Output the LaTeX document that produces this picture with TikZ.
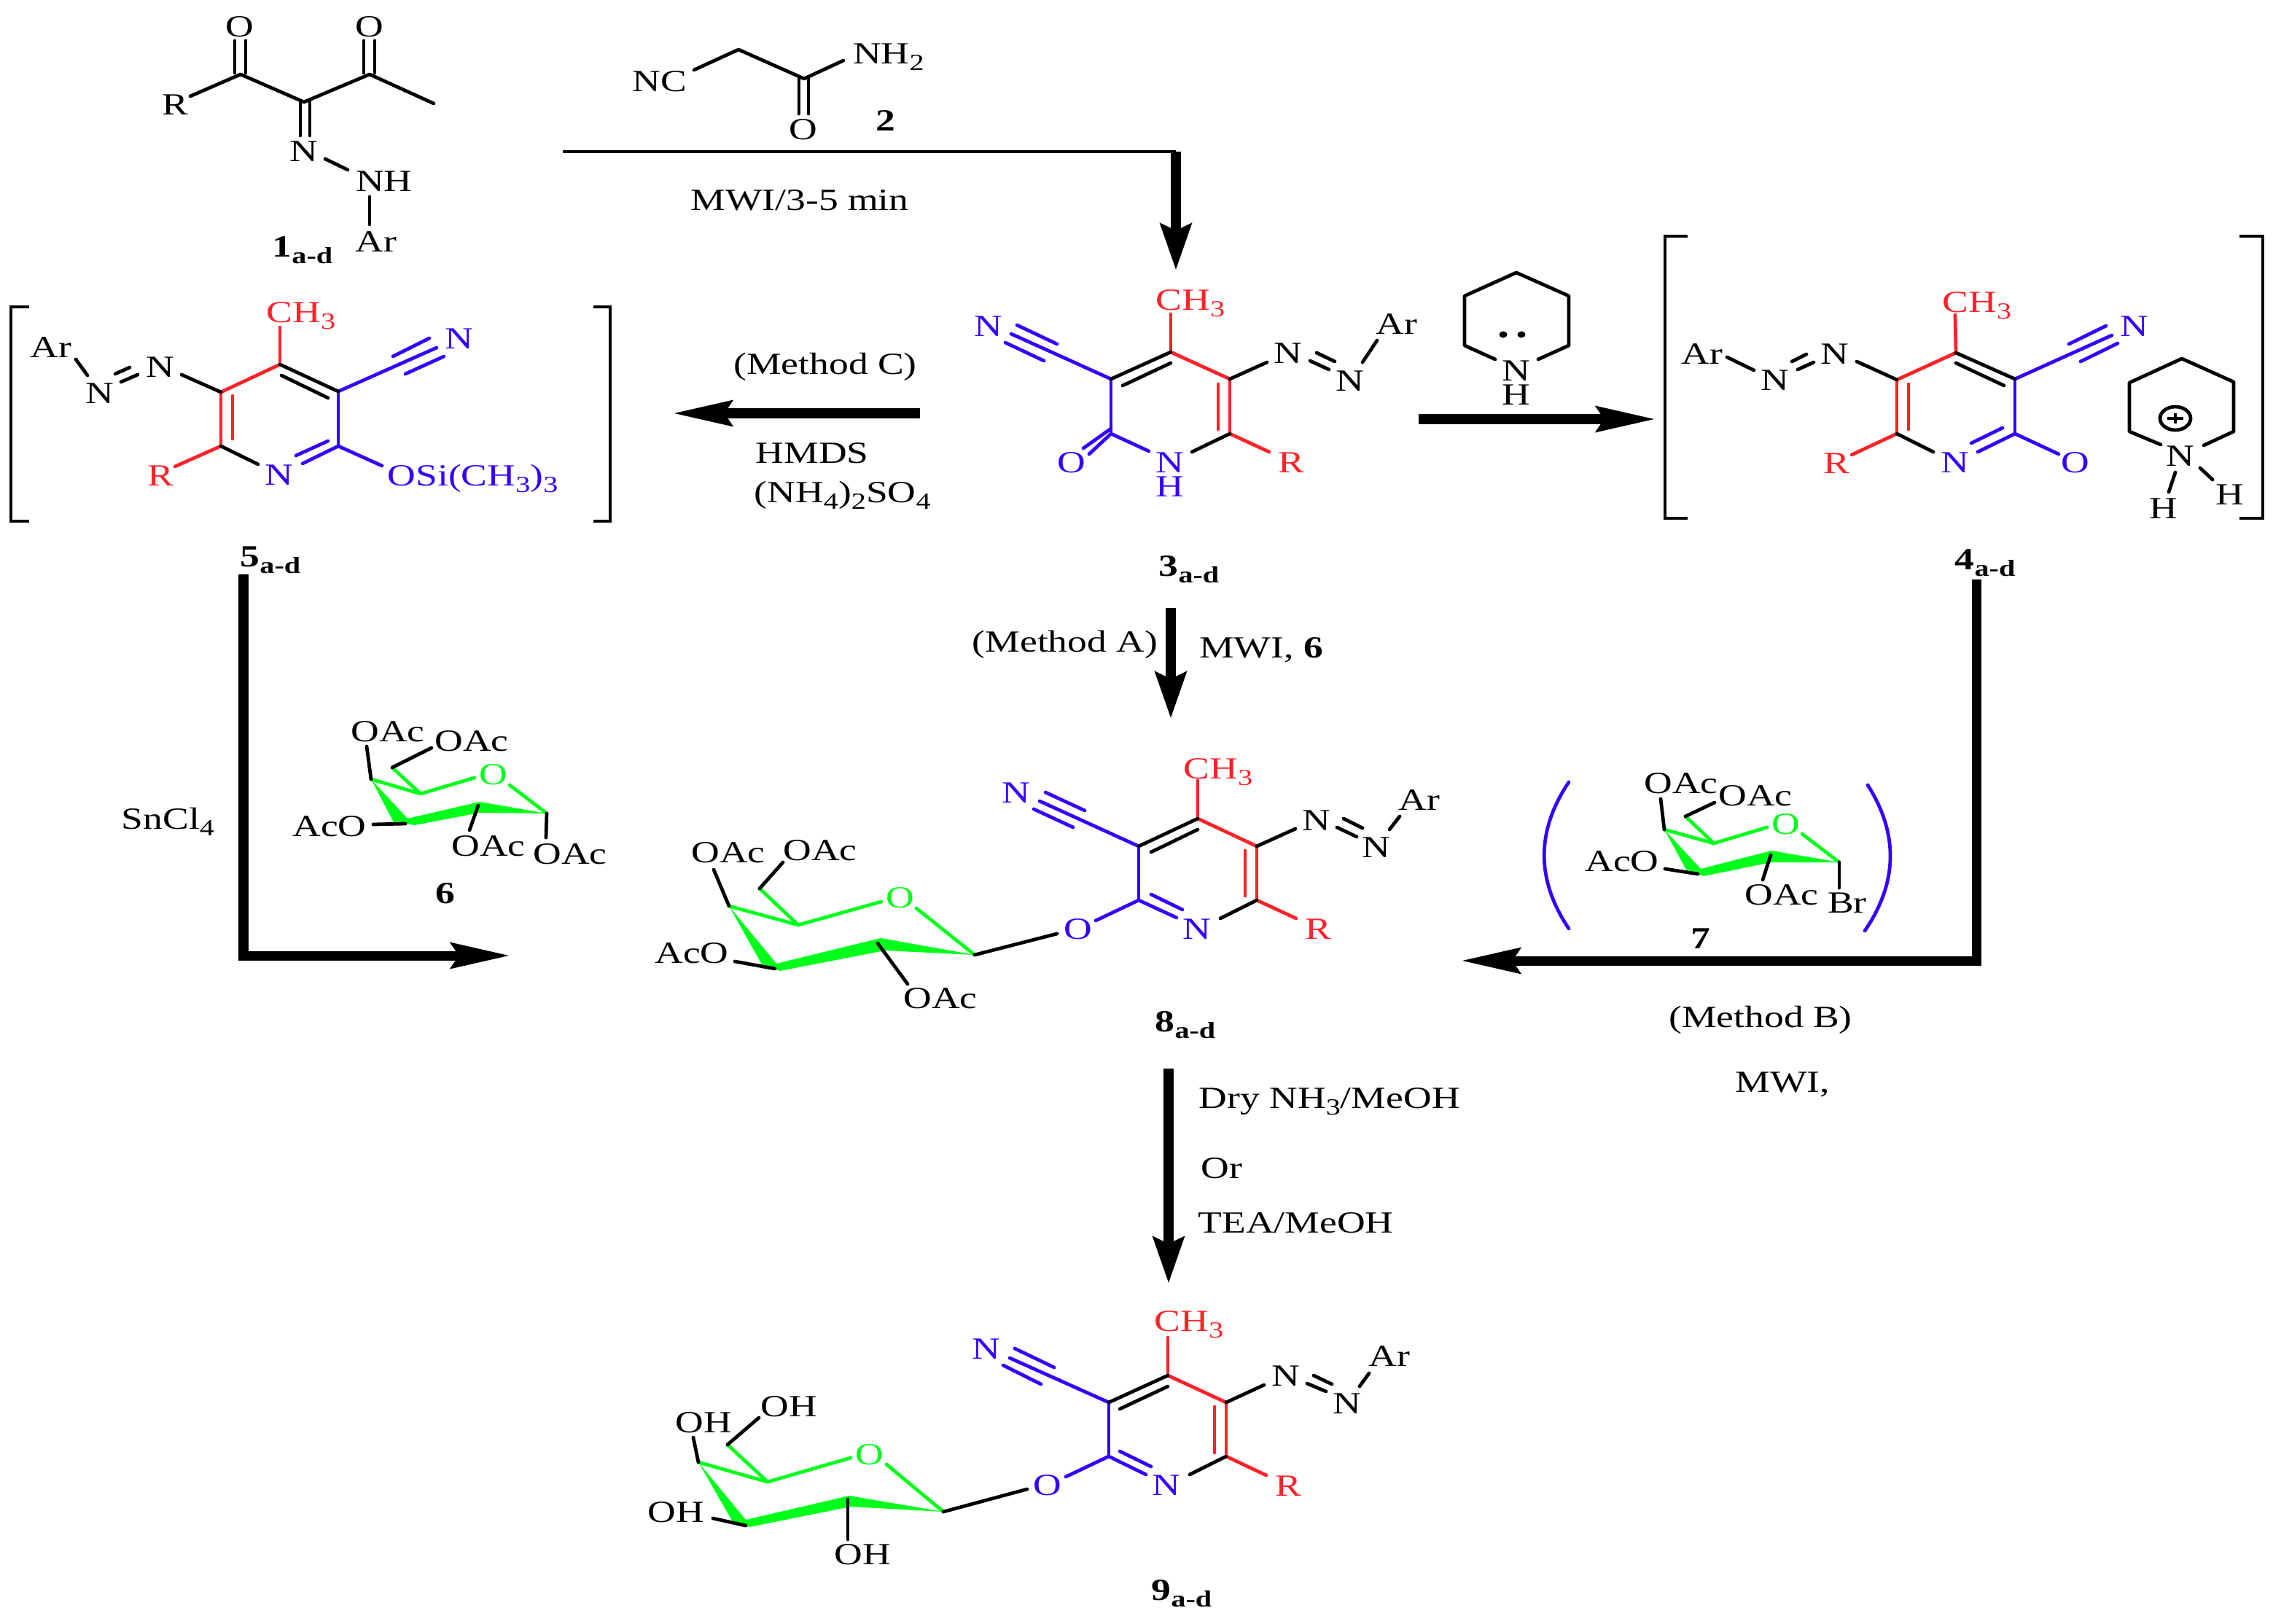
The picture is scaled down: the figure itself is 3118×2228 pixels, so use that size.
\documentclass[tikz,border=0pt]{standalone}
\usepackage{fontspec}
\setmainfont[FakeStretch=1.27]{Liberation Serif}
\usetikzlibrary{arrows.meta}
\definecolor{ringblue}{HTML}{3300FF}
\definecolor{ringred}{HTML}{FF2228}
\definecolor{sugargreen}{HTML}{00FF1A}
\newcommand{\lowr}[1]{\raisebox{-.45ex}{\fontsize{9}{9}\selectfont #1}}
\newcommand{\cmpd}[1]{\textbf{#1}\lowr{\textbf{a-d}}}
\newcommand{\atoms}[2]{\foreach \n/\x/\y in {#2}{\coordinate (#1\n) at (\x,\y);}}
\newcommand{\labels}[2]{\foreach \n/\x/\y/\txt in {#2}{\node[lbl,text=#1] (\n) at (\x,\y) {\txt};}}
\newcommand{\ringbonds}[1]{
	\foreach \a/\b in {c4/c5,c5/c6,c4/me,c6/rr,i56a/i56b}{\draw[bond,ringred] (#1\a)--(#1\b);}
	\foreach \a/\b in {c3/c2,c3/cn,t1a/t1b,t2a/t2b,c2/na,c2/oo,ia/ib}{\draw[bond,ringblue] (#1\a)--(#1\b);}
	\foreach \a/\b in {c3/c4,i34a/i34b,c5/z1,c6/nb,d1a/d1b,d2a/d2b,ar1/ar2}{\draw[bond] (#1\a)--(#1\b);}
}
\newcommand{\sugarring}[1]{
	\fill[sugargreen] (#1c4)--(#1c4b)--(#1c3b)--(#1c2b)--(#1c1)--(#1c2t)--(#1c3l)--cycle;
	\draw[bond,sugargreen] (#1c4)--(#1c5)--(#1oa);
	\draw[bond,sugargreen] (#1c6)--(#1c5);
	\draw[bond,sugargreen] (#1ob)--(#1c1);
}
\tikzset{
	lbl/.style={inner sep=0pt,text height=7.9pt,text depth=0pt,font=\fontsize{12}{12}\selectfont},
	stacked/.style={inner sep=0pt,align=center,font=\fontsize{12}{9.4}\selectfont},
	bond/.style={line width=1.35pt,line cap=round},
	bracket/.style={line width=1.3pt,line join=miter},
	harrow/.style={line width=3.7pt,-{Stealth[length=23pt,width=9.8pt,inset=3pt]}},
	varrow/.style={line width=3.9pt,-{Stealth[length=18pt,width=11.8pt,inset=2.5pt]}}
}
\begin{document}
\begin{tikzpicture}[x=0.01cm,y=-0.01cm,line join=round]
	\useasboundingbox (0,0) rectangle (3118,2228);
	\atoms{a}{c1/330/102,c2/417/140,c3/507/102,me/595/142,rb/261/132,o1a/322/56,o1b/322/100,o2a/337/56,o2b/337/100,o3a/499/56,o3b/499/100,o4a/514/56,o4b/514/100,n1a/412/140,n1b/412/186,n2a/425/140,n2b/425/186,h1/446/218,h2/477/233,h3/507/270,h4/507/308}
	\foreach \a/\b in {rb/c1,c1/c2,c2/c3,c3/me,o1a/o1b,o2a/o2b,o3a/o3b,o4a/o4b,n1a/n1b,n2a/n2b,h1/h2,h3/h4}{\draw[bond] (a\a)--(a\b);}
	\labels{black}{nao1/329/37/O,nao2/507/37/O,nar/240/144/R,nan/417/208/N,nanh/527/249/NH,naar/516/332/Ar,nac/415/339/\cmpd{1}}
	\atoms{b}{c1/952/96,c2/1013/68,c3/1103/108,nh/1157/83,o1a/1096/108,o1b/1096/156,o2a/1109/108,o2b/1109/156}
	\draw[bond] (bc1)--(bc2)--(bc3)--(bnh);
	\draw[bond] (bo1a)--(bo1b);
	\draw[bond] (bo2a)--(bo2b);
	\labels{black}{nbnc/905/112/NC,nbnh/1219/74/NH\lowr{2},nbo/1102/178/O,nbc/1215/166/\textbf{2}}
	\node[lbl,anchor=center] (mwia) at (1097,275) {MWI/3-5 min};
	\coordinate (topa) at (772,208);
	\coordinate (topb) at (1613,208);
	\coordinate (topc) at (1613,371);
	\draw[line width=1pt] (topa)--(topb);
	\draw[varrow] (topb)--(topc);
	% compound 3
	\atoms{m3}{c2/1524/595,c3/1524/520,c4/1606/483,c5/1687/520,c6/1687/595,me/1606/431,rr/1741/620,cn/1387/458,t1a/1395/446,t1b/1450/472,t2a/1379/470,t2b/1432/495,na/1576/619,nb/1635/620,oo/1494/623,ia/1524/588,ib/1486/615,i34a/1606/498,i34b/1540/529,i56a/1671/527,i56b/1671/589,z1/1738/497,d1a/1806/484,d1b/1831/496,d2a/1797/495,d2b/1823/507,ar1/1869/497,ar2/1889/467}
	\ringbonds{m3}
	\labels{ringred}{n3me/1633/412/CH\lowr{3},n3r/1771/635/R}
	\labels{ringblue}{n3cn/1356/448/N,n3o/1470/635/O}
	\node[stacked,text=ringblue] (n3n) at (1605,651.5) {N\\H};
	\labels{black}{n3za/1767/485/N,n3zb/1852/523/N,n3ar/1916/445/Ar,n3c/1631/777/\cmpd{3}}
	% compound 4
	\atoms{m4}{c2/2764/595,c3/2764/520,c4/2683/484,c5/2602/521,c6/2602/595,me/2682/432,rr/2540/624,cn/2897/460,t1a/2838/472,t1b/2889/447,t2a/2854/496,t2b/2905/471,na/2713/620,nb/2652/620,oo/2824/623,ia/2704/608,ib/2747/587,i34a/2683/498,i34b/2749/529,i56a/2618/527,i56b/2618/589,z1/2547/496,d1a/2458/496,d1b/2478/486,d2a/2466/507,d2b/2488/497,ar1/2369/490,ar2/2406/508}
	\ringbonds{m4}
	\labels{ringred}{n4me/2712/415/CH\lowr{3},n4r/2519/636/R}
	\labels{ringblue}{n4cn/2928/448/N,n4n/2682/635/N,n4o/2847/635/O}
	\labels{black}{n4za/2517/486/N,n4zb/2435/522/N,n4ar/2335/486/Ar,n4c/2723/768/\cmpd{4}}
	\atoms{k4}{a/2315/324,b/2284/324,c/2284/711,d/2315/711,e/3072/324,f/3104/324,g/3104/711,h/3072/711}
	\draw[bracket] (k4a)--(k4b)--(k4c)--(k4d);
	\draw[bracket] (k4e)--(k4f)--(k4g)--(k4h);
	% piperidine and its salt
	\atoms{p}{a/2051/493,b/2009/474,c/2009/406,d/2080/374,e/2152/406,f/2152/474,g/2110/493,u/2062/459,v/2087/459}
	\draw[bond] (pa)--(pb)--(pc)--(pd)--(pe)--(pf)--(pg);
	\fill (pu) ellipse (5.5 and 4.5);
	\fill (pv) ellipse (5.5 and 4.5);
	\node[stacked] (npn) at (2080,525.5) {N\\H};
	\atoms{q}{a/2964/610,b/2921/592,c/2921/525,d/2993/492,e/3064/524,f/3064/592,g/3023/611,u/2984/574,v/2984/648,w/2975/675,x/3018/642,y/3035/658,pa/2973/574,pb/2995/574,pc/2984/567,pd/2984/581}
	\draw[bond] (qa)--(qb)--(qc)--(qd)--(qe)--(qf)--(qg);
	\draw[bond] (qv)--(qw);
	\draw[bond] (qx)--(qy);
	\draw[bond] (qu) ellipse (21 and 16);
	\draw[line width=1pt] (qpa)--(qpb);
	\draw[line width=1pt] (qpc)--(qpd);
	\labels{black}{nqn/2991/626/N,nqha/2968/698/H,nqhb/3059/679/H}
	% compound 5
	\atoms{m5}{c2/464/612,c3/464/537,c4/384/500,c5/303/538,c6/303/612,me/384/449,rr/240/640,cn/599/477,t1a/539/489,t1b/589/464,t2a/556/513,t2b/609/489,na/415/636,nb/354/637,oo/524/639,ia/406/625,ib/450/605,i34a/386/515,i34b/450/546,i56a/319/543,i56b/319/602,z1/249/514,d1a/158/513,d1b/178/504,d2a/166/524,d2b/189/514,ar1/104/493,ar2/120/515}
	\ringbonds{m5}
	\labels{ringred}{n5me/413/429/CH\lowr{3},n5r/220/653/R}
	\labels{ringblue}{n5cn/630/465/N,n5n/383/652/N}
	\node[lbl,text=ringblue,anchor=west] (n5si) at (531,653) {OSi(CH\lowr{3})\lowr{3}};
	\labels{black}{n5za/220/504/N,n5zb/137/540/N,n5ar/70/477/Ar,n5c/371/764/\cmpd{5}}
	\atoms{k5}{a/40/421,b/15/421,c/15/715,d/40/715,e/814/421,f/837/421,g/837/715,h/814/715}
	\draw[bracket] (k5a)--(k5b)--(k5c)--(k5d);
	\draw[bracket] (k5e)--(k5f)--(k5g)--(k5h);
	% sugar 6
	\atoms{s6}{c1/750/1116,c2t/658/1100,c2b/658/1115,c3l/559/1123,c3b/569/1132,c4/509/1069,c4b/540/1128,c5/577/1089,c6/538/1053,oa/651/1067,ob/699/1077,k1/503/1024,k2/592/1026,k3/512/1131,k4/556/1130,k5/656/1105,k6/644/1139,k7/749/1149}
	\sugarring{s6}
	\foreach \a/\b in {c4/k1,c6/k2,k3/k4,k5/k6,c1/k7}{\draw[bond] (s6\a)--(s6\b);}
	\labels{sugargreen}{n6o/677/1063/O}
	\labels{black}{n6a/532/1004/OAc,n6b/647/1017/OAc,n6c/452/1134/AcO,n6d/670/1161/OAc,n6e/782/1172/OAc,n6n/611/1226/\textbf{6}}
	% sugar 7
	\atoms{s7}{c1/2523/1183,c2t/2430/1167,c2b/2430/1183,c3l/2333/1192,c3b/2337/1202,c4/2283/1138,c4b/2313/1193,c5/2351/1157,c6/2312/1120,oa/2424/1135,ob/2472/1144,k1/2278/1096,k2/2352/1101,k3/2284/1192,k4/2329/1199,k5/2429/1173,k6/2418/1207,k7/2523/1218,pa/2152/1073,pb/2152/1274,pc/2562/1077,pd/2558/1277}
	\sugarring{s7}
	\foreach \a/\b in {c4/k1,c6/k2,k3/k4,k5/k6,c1/k7}{\draw[bond] (s7\a)--(s7\b);}
	\draw[bond,ringblue] (s7pa) .. controls (2107,1140) and (2107,1207) .. (s7pb);
	\draw[bond,ringblue] (s7pc) .. controls (2604,1143) and (2604,1210) .. (s7pd);
	\labels{sugargreen}{n7o/2450/1131/O}
	\labels{black}{n7a/2306/1075/OAc,n7b/2408/1092/OAc,n7c/2225/1182/AcO,n7d/2444/1228/OAc,n7e/2534/1239/Br,n7n/2333/1288/\textbf{7}}
	% compound 8
	\atoms{m8}{c2/1562/1235,c3/1562/1161,c4/1643/1123,c5/1724/1161,c6/1724/1235,me/1643/1071,rr/1778/1260,cn/1426/1099,t1a/1434/1087,t1b/1488/1112,t2a/1418/1110,t2b/1472/1135,na/1614/1259,nb/1674/1260,oo/1503/1263,ia/1579/1227,ib/1622/1248,i34a/1643/1138,i34b/1579/1169,i56a/1708/1167,i56b/1708/1229,z1/1777/1137,d1a/1843/1123,d1b/1869/1136,d2a/1834/1135,d2b/1861/1148,ar1/1906/1138,ar2/1920/1120}
	\ringbonds{m8}
	\labels{ringred}{n8me/1671/1055/CH\lowr{3},n8r/1808/1275/R}
	\labels{ringblue}{n8cn/1394/1088/N,n8n/1642/1275/N,n8o/1479/1275/O}
	\labels{black}{n8za/1806/1126/N,n8zb/1888/1163/N,n8ar/1947/1098/Ar,n8c/1626/1402/\cmpd{8}}
	\atoms{s8}{c1/1337/1310,c2t/1208/1287,c2b/1214/1304,c3l/1065/1322,c3b/1070/1332,c4/1000/1243,c4b/1045/1323,c5/1095/1269,c6/1042/1219,oa/1209/1237,ob/1257/1246,k1/979/1193,k2/1074/1183,k3/1008/1319,k4/1063/1329,k5/1204/1294,k6/1245/1350,k7/1450/1281}
	\sugarring{s8}
	\foreach \a/\b in {c4/k1,c6/k2,k3/k4,k5/k6,c1/k7}{\draw[bond] (s8\a)--(s8\b);}
	\labels{sugargreen}{n8so/1235/1232/O}
	\labels{black}{n8a/999/1170/OAc,n8b/1125/1167/OAc,n8d/949/1308/AcO,n8e/1290/1370/OAc}
	% compound 9
	\atoms{m9}{c2/1521/1998,c3/1521/1924,c4/1602/1887,c5/1682/1924,c6/1682/1998,me/1602/1835,rr/1737/2024,cn/1385/1863,t1a/1392/1850,t1b/1446/1876,t2a/1376/1873,t2b/1428/1899,na/1572/2023,nb/1632/2023,oo/1462/2026,ia/1536/1991,ib/1579/2012,i34a/1602/1902,i34b/1536/1933,i56a/1666/1930,i56b/1666/1993,z1/1734/1900,d1a/1802/1887,d1b/1827/1899,d2a/1793/1898,d2b/1819/1909,ar1/1865/1902,ar2/1878/1884}
	\ringbonds{m9}
	\labels{ringred}{n9me/1631/1813/CH\lowr{3},n9r/1767/2039/R}
	\labels{ringblue}{n9cn/1353/1851/N,n9n/1600/2038/N,n9o/1437/2038/O}
	\labels{black}{n9za/1764/1888/N,n9zb/1848/1926/N,n9ar/1906/1861/Ar,n9c/1621/2182/\cmpd{9}}
	\atoms{s9}{c1/1294/2074,c2t/1165/2052,c2b/1167/2067,c3l/1023/2085,c3b/1028/2095,c4/958/2006,c4b/1004/2086,c5/1053/2033,c6/998/1982,oa/1167/2000,ob/1216/2009,k1/951/1972,k2/1041/1945,k3/978/2083,k4/1023/2093,k5/1163/2057,k6/1163/2112,k7/1409/2043}
	\sugarring{s9}
	\foreach \a/\b in {c4/k1,c6/k2,k3/k4,k5/k6,c1/k7}{\draw[bond] (s9\a)--(s9\b);}
	\labels{sugargreen}{n9so/1193/1996/O}
	\labels{black}{n9a/965/1952/OH,n9b/1082/1930/OH,n9d/927/2075/OH,n9e/1183/2133/OH}
	% arrows and conditions
	\atoms{r}{a/1262/567,b/923/567,c/1946/575,d/2271/575,e/1606/834,f/1606/986,g/1603/1466,h/1603/1761,i/334/788,j/334/1311,k/700/1311,l/2711/795,m/2711/1318,n/2004/1318}
	\draw[harrow] (ra)--(rb);
	\draw[harrow] (rc)--(rd);
	\draw[varrow] (re)--(rf);
	\draw[varrow] (rg)--(rh);
	\draw[harrow,line join=miter] (ri)--(rj)--(rk);
	\draw[harrow,line join=miter] (rl)--(rm)--(rn);
	\node[lbl] (methc) at (1132,500) {(Method C)};
	\node[lbl,anchor=west] (hmds) at (1036,622) {HMDS};
	\node[lbl,anchor=west] (amsu) at (1034,676) {(NH\lowr{4})\lowr{2}SO\lowr{4}};
	\node[lbl] (metha) at (1461,881) {(Method A)};
	\node[lbl] (mwib) at (1730,889) {MWI, \textbf{6}};
	\node[lbl,anchor=west] (sncl) at (166,1124) {SnCl\lowr{4}};
	\node[lbl] (methb) at (2415,1396) {(Method B)};
	\node[lbl,anchor=west] (mwic) at (2380,1485) {MWI,};
	\node[lbl,anchor=west] (dry) at (1644,1507) {Dry NH\lowr{3}/MeOH};
	\node[lbl,anchor=west] (orr) at (1647,1603) {Or};
	\node[lbl,anchor=west] (tea) at (1643,1678) {TEA/MeOH};
\end{tikzpicture}
\end{document}
